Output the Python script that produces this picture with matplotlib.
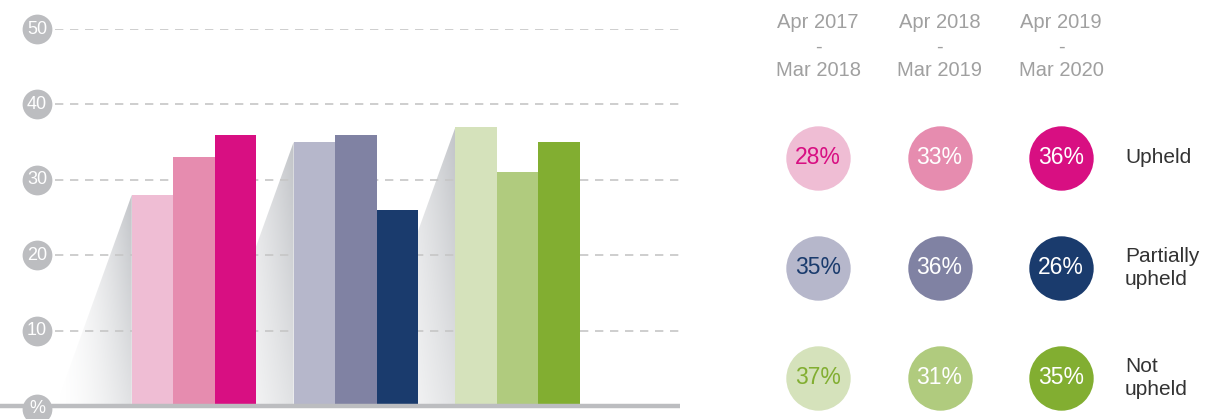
import numpy as np
import matplotlib
matplotlib.use("Agg")
import matplotlib.pyplot as plt
from matplotlib.patches import Polygon
import matplotlib.transforms as mtransforms

plt.rcParams['font.family'] = ['Liberation Sans', 'DejaVu Sans']

# data
outcomes = ["Upheld", "Partially\nupheld", "Not\nupheld"]
periods = ["Apr 2017\n-\nMar 2018", "Apr 2018\n-\nMar 2019", "Apr 2019\n-\nMar 2020"]
upheld = [28, 33, 36]
partially_upheld = [35, 36, 26]
not_upheld = [37, 31, 35]
values = [upheld, partially_upheld, not_upheld]
yticks = [0, 10, 20, 30, 40, 50]
ytick_labels = ["%", "10", "20", "30", "40", "50"]

colors = [
    ["#efbdd4", "#e68caf", "#d80f82"],
    ["#b6b7cb", "#8082a3", "#1a3b6d"],
    ["#d5e2bb", "#b0cb7e", "#82ae31"],
]
text_dark = ["#d80f82", "#1a3b6d", "#82ae31"]

W, H = 1230, 419
fig = plt.figure(figsize=(W / 100, H / 100), dpi=100)

# ---- bar chart ----
ax = fig.add_axes([55 / W, (H - 406) / H, 625 / W, 377 / H])
ax.set_xlim(0, 15.06)
ax.set_ylim(0, 50)
ax.axis("off")

first_left = 1.85
group_step = 3.9
slant = 0.0654  # shadow spread in x units per % of height

for g, vals in enumerate(values):
    x0 = first_left + g * group_step
    h = vals[0]
    # gradient shadow to the left of each group
    x_left = x0 - slant * h
    poly = Polygon([(x0, h), (x_left, 0), (x0, 0)], closed=True,
                   facecolor="none", edgecolor="none")
    ax.add_patch(poly)
    nx, ny = 200, 100
    tx = np.linspace(0, 1, nx)[None, :]
    ty = np.linspace(0, 1, ny)[:, None]
    alpha = (tx ** 1.6) * (0.40 + 0.40 * ty)
    img = np.zeros((ny, nx, 4))
    img[..., 0] = 0.70
    img[..., 1] = 0.71
    img[..., 2] = 0.73
    img[..., 3] = alpha
    im = ax.imshow(img, extent=(x_left, x0, 0, h), origin="lower",
                   aspect="auto", zorder=1, interpolation="bilinear")
    im.set_clip_path(poly)
    for j, v in enumerate(vals):
        ax.bar(x0 + j, v, width=1.0, align="edge", color=colors[g][j],
               zorder=3, linewidth=0)

for t in yticks[1:]:
    ax.axhline(t, color="#c6c6c6", lw=1.2, ls=(0, (5, 4)), zorder=2)
ax.plot([-0.12, 1], [0, 0], transform=ax.get_yaxis_transform(),
        color="#bcbdc0", lw=3.2, solid_capstyle="butt", clip_on=False, zorder=4)

trans = mtransforms.blended_transform_factory(ax.transAxes, ax.transData)
for t, lab in zip(yticks, ytick_labels):
    yy = t if t > 0 else -0.35
    ax.scatter([-0.0288], [yy], s=460, color="#bcbdc0", transform=trans,
               clip_on=False, zorder=5, linewidths=0)
    ax.text(-0.0288, yy, lab, transform=trans, ha="center", va="center",
            color="white", fontsize=13, zorder=6)

# ---- right hand table ----
ax2 = fig.add_axes([740 / W, 0, 490 / W, 1])
ax2.set_xlim(-0.642, 3.39)
ax2.set_ylim(2.373, -1.436)
ax2.axis("off")

for c, lab in enumerate(periods):
    ax2.text(c, -1.01, lab, ha="center", va="center", color="#a0a0a0",
             fontsize=14.5, linespacing=1.33)

for r, vals in enumerate(values):
    for c, v in enumerate(vals):
        ax2.scatter([c], [r], s=2150, color=colors[r][c], linewidths=0)
        tc = text_dark[r] if c == 0 else "white"
        ax2.text(c, r, f"{v}%", ha="center", va="center", color=tc, fontsize=16.5)
    ax2.text(2.527, r, outcomes[r], ha="left", va="center", color="#333333",
             fontsize=15, linespacing=1.32)

fig.savefig("out.png", dpi=100)
